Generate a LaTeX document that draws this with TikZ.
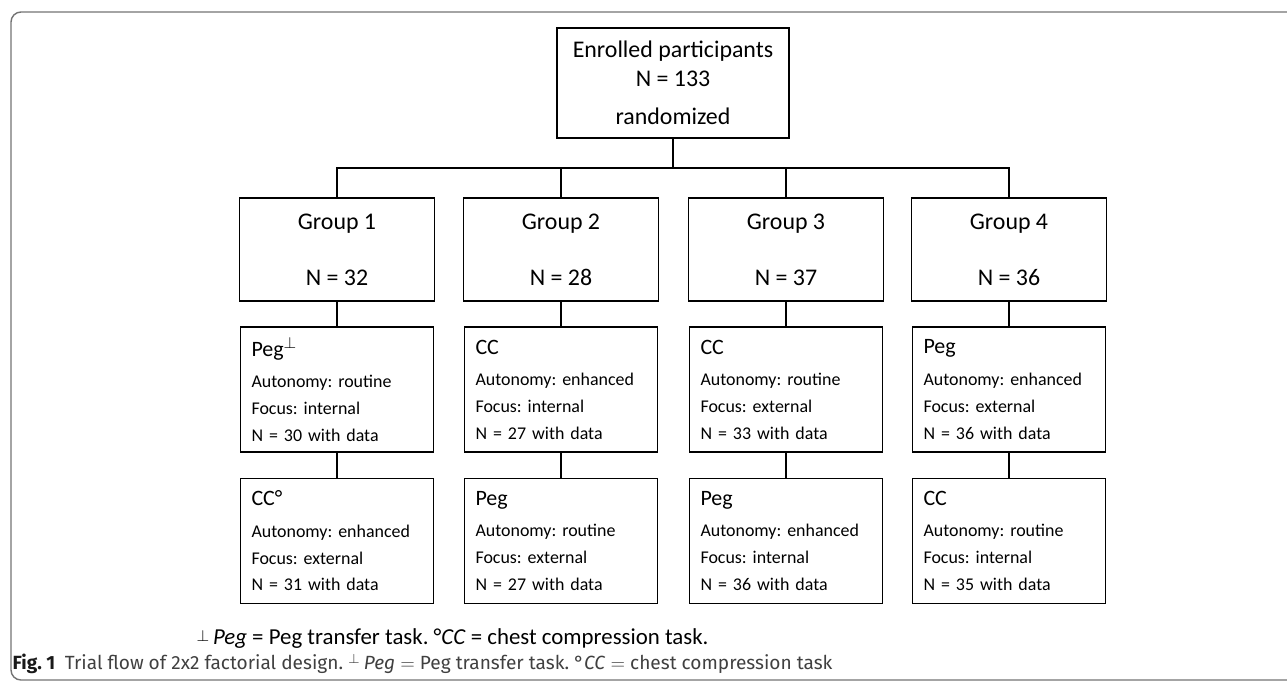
\documentclass[tikz,border=0pt]{standalone}
\usepackage{fontspec}
\setmainfont{Carlito}
\newfontfamily\capfont{Fira Sans}
\usepackage{tikz}
\usetikzlibrary{positioning}
\frenchspacing
\tikzset{every picture/.style={x=0.02cm,y=-0.02cm,line width=0.7pt},
  topbox/.style={draw,align=center,minimum width=4.64cm,minimum height=2.2cm,inner sep=0pt,font=\fontsize{13.6}{16.4}\selectfont},
  groupbox/.style={draw,align=center,minimum width=3.9cm,minimum height=2.06cm,inner sep=0pt,font=\fontsize{13.6}{32}\selectfont},
  armbox/.style={draw,align=left,text width=3.42cm,inner xsep=0.22cm,inner ysep=0pt,minimum height=2.5cm,font=\fontsize{10.2}{15.3}\selectfont}}
\newcommand{\armtask}[1]{{\fontsize{12.5}{15}\selectfont #1}\\[2.5pt]}

\begin{document}
\begin{tikzpicture}
            \clip (0,0) rectangle (1287,681);
            \draw[black!55, line width=0.8pt, rounded corners=0.2cm] (11,12) rectangle (1330,680);

            \node[topbox] (enrol) at (673, 83) {Enrolled participants\\N = 133\\[5.5pt]randomized};
            \coordinate (split) at (673, 168);

            \node[groupbox] (g1) at (337, 249.5) {Group 1\\N = 32};
            \node[groupbox] (g2) at (561, 249.5) {Group 2\\N = 28};
            \node[groupbox] (g3) at (786, 249.5) {Group 3\\N = 37};
            \node[groupbox] (g4) at (1009, 249.5) {Group 4\\N = 36};

            \node[armbox] (a1) at (337, 389.5) {\armtask{Peg$^{\perp}$}Autonomy: routine\\Focus: internal\\N = 30 with data};
            \node[armbox] (a2) at (561, 389.5) {\armtask{CC}Autonomy: enhanced\\Focus: internal\\N = 27 with data};
            \node[armbox] (a3) at (786, 389.5) {\armtask{CC}Autonomy: routine\\Focus: external\\N = 33 with data};
            \node[armbox] (a4) at (1009, 389.5) {\armtask{Peg}Autonomy: enhanced\\Focus: external\\N = 36 with data};

            \node[armbox] (b1) at (337, 541) {\armtask{CC°}Autonomy: enhanced\\Focus: external\\N = 31 with data};
            \node[armbox] (b2) at (561, 541) {\armtask{Peg}Autonomy: routine\\Focus: external\\N = 27 with data};
            \node[armbox] (b3) at (786, 541) {\armtask{Peg}Autonomy: enhanced\\Focus: internal\\N = 36 with data};
            \node[armbox] (b4) at (1009, 541) {\armtask{CC}Autonomy: routine\\Focus: internal\\N = 35 with data};

            \draw (enrol) -- (split);
            \foreach \g in {g1, g2, g3, g4}
              \draw (split) -| (\g);
            \foreach \from/\to in {g1/a1, a1/b1, g2/a2, a2/b2, g3/a3, a3/b3, g4/a4, a4/b4}
              \draw (\from) -- (\to);

            \node[anchor=west, inner sep=0pt, font=\fontsize{13}{15}\selectfont] (note) at (196, 639)
              {\raisebox{0.3ex}{$\scriptstyle\perp$}\,\textit{Peg} = Peg transfer task. °\textit{CC} = chest compression task.};
            \node[anchor=west, inner sep=0pt, font=\capfont\fontsize{10.2}{12}\selectfont, text=black!75] (caption) at (12, 664)
              {\resizebox{16.4cm}{!}{\textcolor{black!90}{\textbf{Fig. 1}}\enspace Trial flow of 2x2 factorial design. $^{\perp}$\,\textit{Peg} $=$ Peg transfer task. °\textit{CC} $=$ chest compression task}};
        \end{tikzpicture}
\end{document}
